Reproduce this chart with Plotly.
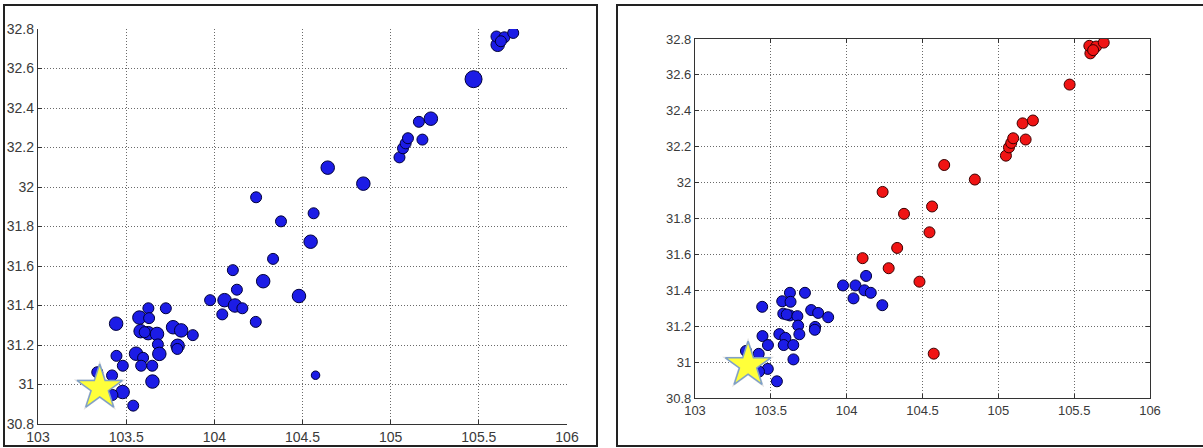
import plotly.graph_objects as go

# ---- data ----
lon = [103.976, 104.058, 104.128, 104.045, 104.117, 104.159, 104.235, 103.443, 103.626, 103.725,
       103.575, 103.630, 103.582, 103.625, 103.605, 103.675, 103.766, 103.812, 103.878, 103.680,
       103.792, 103.790, 103.688, 103.445, 103.556, 103.596, 103.585, 103.648, 103.481, 103.649,
       103.336, 103.420, 103.480, 103.422, 103.540,
       104.105, 104.333, 104.277, 104.480, 104.546, 104.574, 104.237, 104.378, 104.563, 104.643,
       104.845, 105.050, 105.070, 105.085, 105.098, 105.160, 105.228, 105.180, 105.470, 105.607,
       105.600, 105.645, 105.695, 105.625]
lat = [31.427, 31.427, 31.480, 31.355, 31.400, 31.386, 31.317, 31.308, 31.386, 31.386,
       31.339, 31.336, 31.270, 31.260, 31.265, 31.256, 31.290, 31.274, 31.250, 31.203,
       31.196, 31.180, 31.155, 31.145, 31.156, 31.135, 31.095, 31.095, 31.095, 31.015,
       31.062, 31.046, 30.962, 30.947, 30.893,
       31.579, 31.636, 31.523, 31.448, 31.723, 31.047, 31.948, 31.826, 31.867, 32.098,
       32.017, 32.150, 32.196, 32.221, 32.247, 32.330, 32.346, 32.240, 32.546, 32.720,
       32.762, 32.758, 32.780, 32.738]
magnitude = [4.5, 5.0, 4.5, 4.5, 5.0, 4.5, 4.5, 5.0, 4.5, 4.5,
             5.0, 4.5, 5.0, 5.0, 4.5, 5.0, 5.0, 5.0, 4.5, 4.5,
             5.0, 4.5, 5.0, 4.5, 5.0, 4.5, 4.5, 4.5, 4.5, 5.0,
             4.5, 4.5, 5.0, 4.5, 4.5,
             4.5, 4.5, 5.0, 5.0, 5.0, 4.0, 4.5, 4.5, 4.5, 5.0,
             5.0, 4.5, 4.5, 4.5, 4.5, 4.5, 5.0, 4.5, 5.7, 5.0,
             4.5, 4.5, 4.5, 4.5]
group = ["near"] * 35 + ["far"] * 24
epicenter_lon = [103.35]
epicenter_lat = [30.983]

x_ticks = [103, 103.5, 104, 104.5, 105, 105.5, 106]
y_ticks = [30.8, 31, 31.2, 31.4, 31.6, 31.8, 32, 32.2, 32.4, 32.6, 32.8]

# ---- figure ----
W, H = 1203, 448
BLUE = "#1c1ce6"
BLUE_EDGE = "#00003a"
RED = "#f01414"
RED_EDGE = "#3a0000"

fig = go.Figure()

left_sizes = [11 + 5 * (m - 4.5) for m in magnitude]
fig.add_trace(go.Scatter(x=lon, y=lat, mode="markers", xaxis="x", yaxis="y",
                         marker=dict(size=left_sizes, color=BLUE, opacity=1,
                                     line=dict(color=BLUE_EDGE, width=1)),
                         showlegend=False, hoverinfo="skip"))

near_x = [a for a, g in zip(lon, group) if g == "near"]
near_y = [b for b, g in zip(lat, group) if g == "near"]
far_x = [a for a, g in zip(lon, group) if g == "far"]
far_y = [b for b, g in zip(lat, group) if g == "far"]
fig.add_trace(go.Scatter(x=far_x, y=far_y, mode="markers", xaxis="x2", yaxis="y2",
                         marker=dict(size=11, color=RED, opacity=1, line=dict(color=RED_EDGE, width=1)),
                         showlegend=False, hoverinfo="skip"))
fig.add_trace(go.Scatter(x=near_x, y=near_y, mode="markers", xaxis="x2", yaxis="y2",
                         marker=dict(size=11, color=BLUE, opacity=1, line=dict(color=BLUE_EDGE, width=1)),
                         showlegend=False, hoverinfo="skip"))

for xa, ya in (("x", "y"), ("x2", "y2")):
    fig.add_trace(go.Scatter(x=epicenter_lon, y=epicenter_lat, mode="markers", xaxis=xa, yaxis=ya,
                             marker=dict(symbol="star", size=39, color="rgba(110,110,110,0.22)",
                                         line=dict(width=0)),
                             showlegend=False, hoverinfo="skip"))
    fig.add_trace(go.Scatter(x=epicenter_lon, y=epicenter_lat, mode="markers", xaxis=xa, yaxis=ya,
                             marker=dict(symbol="star", size=34, color="#ffff3a",
                                         line=dict(color="#7fa0c8", width=1.5)),
                             showlegend=False, hoverinfo="skip"))

def px_x(p):
    return p / W

def px_y(p):
    return 1 - p / H

def axis_style(font_size):
    return dict(showgrid=True, gridcolor="#6a6a6a", griddash="1px,2px", gridwidth=1,
                ticks="inside", ticklen=4, tickcolor="#333",
                tickfont=dict(family="Liberation Sans, Arial, sans-serif", size=font_size, color="#3a3a3a"),
                zeroline=False, showline=True, linecolor="#333", linewidth=1.3,
                automargin=False)

xt = dict(range=[103, 106], tickvals=x_ticks, ticktext=[f"{v:g}" for v in x_ticks])
yt = dict(range=[30.8, 32.8], tickvals=y_ticks, ticktext=[f"{v:g}" for v in y_ticks])

fig.update_layout(
    width=W, height=H,
    margin=dict(l=0, r=0, t=0, b=0, pad=0, autoexpand=False),
    paper_bgcolor="white", plot_bgcolor="white",
    xaxis=dict(**xt, **axis_style(14), domain=[px_x(38), px_x(567)], anchor="y", mirror=False),
    yaxis=dict(**yt, **axis_style(14), domain=[px_y(424), px_y(29)], anchor="x", mirror=False),
    xaxis2=dict(**xt, **axis_style(13), domain=[px_x(695), px_x(1150)], anchor="y2", mirror="ticks"),
    yaxis2=dict(**yt, **axis_style(13), domain=[px_y(398), px_y(39)], anchor="x2", mirror="ticks"),
)

# panel frames
fig.add_shape(type="rect", xref="paper", yref="paper",
              x0=px_x(4), x1=px_x(597), y0=px_y(446), y1=px_y(5),
              line=dict(color="#222", width=2), fillcolor="rgba(0,0,0,0)", layer="above")
fig.add_shape(type="rect", xref="paper", yref="paper",
              x0=px_x(617), x1=px_x(1215), y0=px_y(446), y1=px_y(5),
              line=dict(color="#222", width=2), fillcolor="rgba(0,0,0,0)", layer="above")

fig.write_html("out.html", config={"displayModeBar": False},
               post_script="document.body.style.margin='0';document.body.style.overflow='hidden';")
